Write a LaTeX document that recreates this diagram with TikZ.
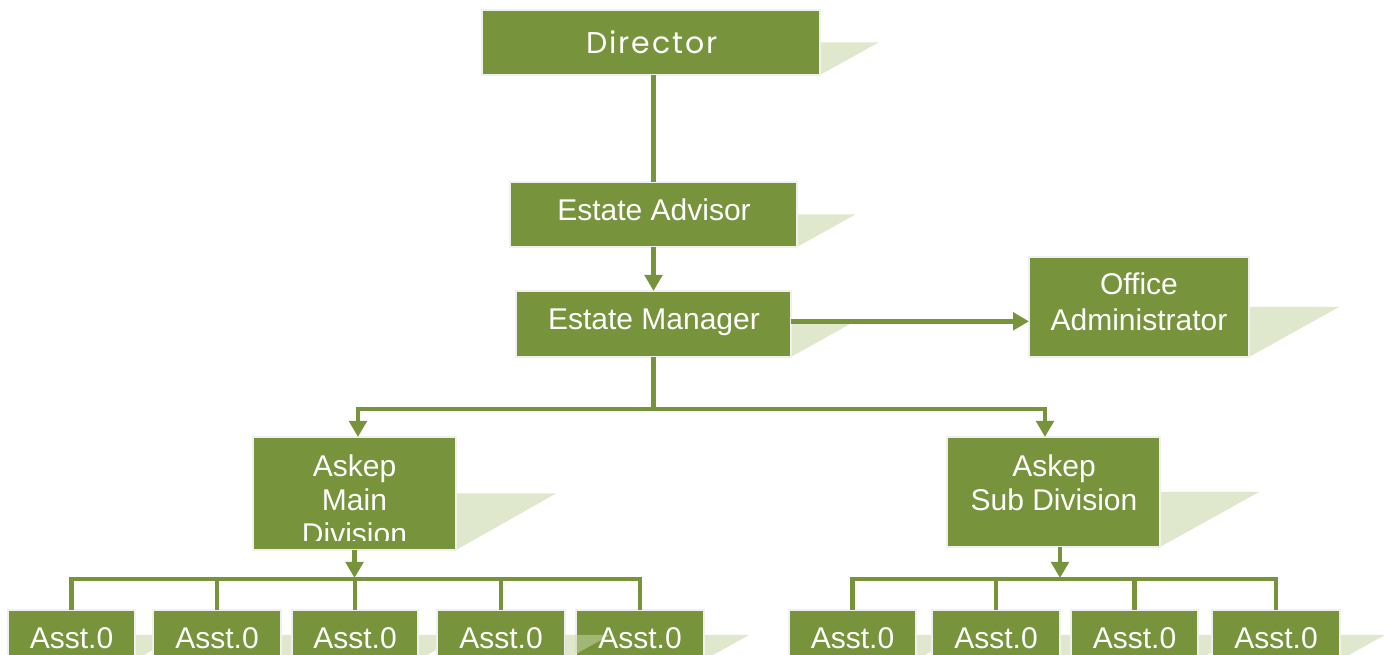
\documentclass[tikz,border=0pt]{standalone}
\usepackage{fontspec}
\setmainfont{Liberation Sans}
\newfontfamily\dirfont[LetterSpace=6]{Poppins}
\usetikzlibrary{arrows.meta}
\definecolor{ol}{HTML}{77933C}
\definecolor{bd}{HTML}{F0F0F0}
\definecolor{shc}{HTML}{DFE8CC}
\definecolor{shd2}{HTML}{C5D6A2}
\begin{document}
\begin{tikzpicture}[x=0.75pt,y=-0.75pt,
  box/.style={fill=ol, draw=bd, line width=1.5pt, inner sep=0pt, outer sep=0pt},
  txt/.style={text=white, inner sep=0pt, align=center, font=\fontsize{22.5pt}{27pt}\selectfont},
  shd/.style={fill=shc},
  conn/.style={draw=ol, line width=3.4pt},
  arr/.style={conn, -{Triangle[width=13pt,length=12pt]}}]
\path[use as bounding box] (0,0) rectangle (1390,655);
\clip (0,0) rectangle (1390,655);
% box positions (shadows drawn first, boxes on top)
\path (651,42.5) node[minimum width=253.5pt, minimum height=48.75pt, inner sep=0pt, outer sep=0pt] (dir) {};
\path (653.5,214.5) node[minimum width=215.25pt, minimum height=48.75pt, inner sep=0pt, outer sep=0pt] (ea) {};
\path (653.5,324) node[minimum width=206.25pt, minimum height=49.5pt, inner sep=0pt, outer sep=0pt] (em) {};
\path (1139,307) node[minimum width=165pt, minimum height=75pt, inner sep=0pt, outer sep=0pt] (oa) {};
\path (354.5,493.5) node[minimum width=152.25pt, minimum height=84.75pt, inner sep=0pt, outer sep=0pt] (am) {};
\path (1053.5,492) node[minimum width=159.75pt, minimum height=82.5pt, inner sep=0pt, outer sep=0pt] (as) {};
\foreach \n/\c/\w in {m1/71.5/95.25, m2/217/96, m3/355/94.5, m4/501/96, m5/640/96,
                       s1/852.5/95.25, s2/996/96, s3/1134.5/95.25, s4/1276/96}
  \path (\c,635) node[minimum width=\w pt, minimum height=37.5pt, inner sep=0pt, outer sep=0pt] (\n) {};
% shadows
\fill[shd] (dir.east) -- ++(58.5,0) -- (dir.south east) -- cycle;
\fill[shd] (ea.east) -- ++(58.5,0) -- (ea.south east) -- cycle;
\fill[shd] (em.east) -- ++(59,0) -- (em.south east) -- cycle;
\fill[shd] (oa.east) -- ++(90,0) -- (oa.south east) -- cycle;
\fill[shd] (am.east) -- ++(100,0) -- (am.south east) -- cycle;
\fill[shd] (as.east) -- ++(99,0) -- (as.south east) -- cycle;
\foreach \n in {m1,m2,m3,m5,s1,s2,s3,s4}
  \fill[shd] (\n.east) -- ++(45,0) -- (\n.south east) -- cycle;
% boxes
\foreach \n in {dir,ea,em,oa,am,as,m1,m2,m3,m4,m5,s1,s2,s3,s4}
  \path[box] (\n.south west) rectangle (\n.north east);
% shadow of m4 lies over m5
\fill[fill=shd2, fill opacity=0.55] (m4.east) -- ++(45,0) -- (m4.south east) -- cycle;
% texts
\node[txt, font=\dirfont\fontsize{22.5pt}{27pt}\selectfont] (dirt) at (652,42.5) {Director};
\node[txt] (eat) at (654,210) {Estate Advisor};
\node[txt, text depth=0pt] (emt) at (654,319) {Estate Manager};
\node[txt] (oat) at (1139,302) {Office\\Administrator};
\begin{scope}
  \clip (253,437) rectangle (456,541);
  \node[txt, font=\fontsize{22.5pt}{25.5pt}\selectfont] (amt) at (354.5,499.5) {Askep\\Main\\Division};
\end{scope}
\node[txt, font=\fontsize{22.5pt}{25.5pt}\selectfont] (ast) at (1054,483) {Askep\\Sub Division};
\foreach \n in {m1,m2,m3,m4,m5,s1,s2,s3,s4}
  \node[txt] (\n t) at ([yshift=-2.25pt]\n.center) {Asst.0};
% connectors
\draw[conn] (dir.south -| ea.north) -- (ea.north);
\draw[arr] (ea.south) -- (em.north);
\draw[arr] ([yshift=2pt]em.east) -- ([yshift=2pt]em.east -| oa.west);
\coordinate (bus) at (653.5,409);
\draw[conn] (em.south) -- (bus);
\draw[arr] (bus) -| ([xshift=2.6pt]am.north);
\draw[arr] (bus) -| ([xshift=-6.4pt]as.north);
\coordinate (bl) at (354.5,579);
\coordinate (br) at (1060,579);
\draw[arr] (am.south) -- ([yshift=0.75pt]bl);
\draw[arr] (as.south -| br) -- ([yshift=0.75pt]br);
\draw[conn] (m1.north) |- (m5.north |- bl) -- (m5.north);
\foreach \n in {m2,m3,m4} \draw[conn] (\n.north) -- (\n.north |- bl);
\draw[conn] (s1.north) |- (s4.north |- br) -- (s4.north);
\foreach \n in {s2,s3} \draw[conn] (\n.north) -- (\n.north |- br);
\end{tikzpicture}
\end{document}
